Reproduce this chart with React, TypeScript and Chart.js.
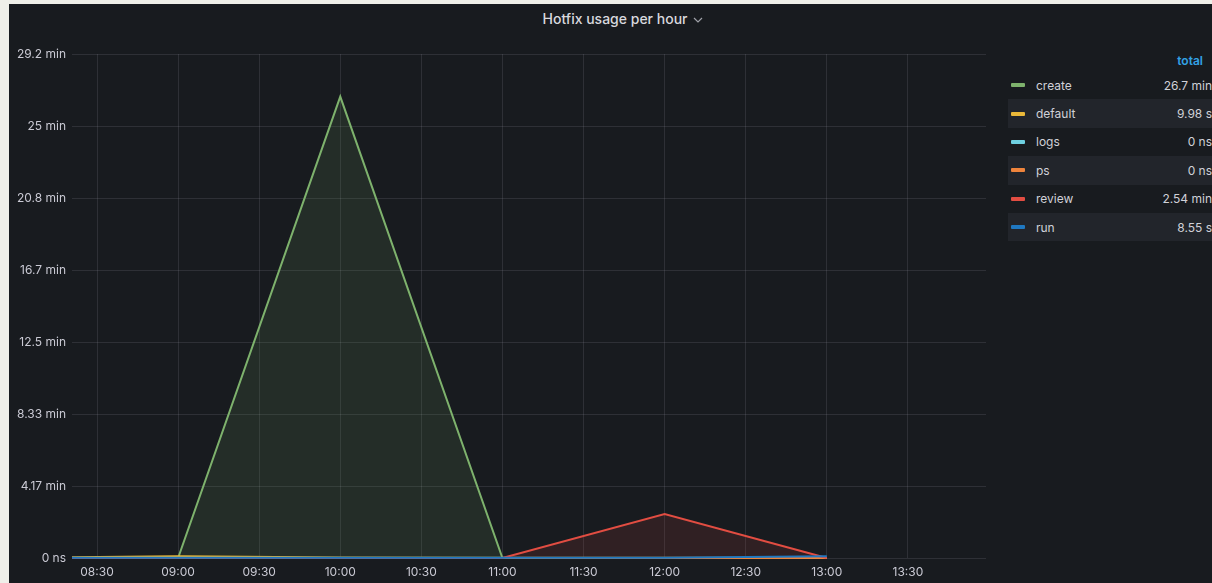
import React, { useEffect, useRef } from "react";
import { Chart, registerables } from "chart.js";
Chart.register(...registerables);

// ---- data ----
const times = ["08:00", "09:00", "10:00", "11:00", "12:00", "13:00"];
const createVals = [0, 0, 1602, 0, 0, 0]; // seconds
const defaultVals = [1, 6, 2, 1, 0.5, 0.48];
const logsVals = [0, 0, 0, 0, 0, 0];
const psVals = [0, 0, 0, 0, 0, 0];
const reviewVals = [0, 0, 0, 0, 152.4, 0];
const runVals = [0.5, 0.5, 0.5, 0.5, 1, 6.05];

const seriesNames = ["create", "default", "logs", "ps", "review", "run"];
const seriesColors = ["#7EB26D", "#EAB839", "#6ED0E0", "#EF843C", "#E24D42", "#1F78C1"];
const seriesTotals = ["26.7 min", "9.98 s", "0 ns", "0 ns", "2.54 min", "8.55 s"];

const xTickLabels = ["08:30", "09:00", "09:30", "10:00", "10:30", "11:00", "11:30", "12:00", "12:30", "13:00", "13:30"];
const xRange = ["08:20:45", "13:58:54"];
const yTickValues = [0, 250, 500, 750, 1000, 1250, 1500, 1750];
const yTickLabels = ["0 ns", "4.17 min", "8.33 min", "12.5 min", "16.7 min", "20.8 min", "25 min", "29.2 min"];

const toMin = (t: string) => {
  const p = t.split(":").map(Number);
  return p[0] * 60 + p[1] + (p[2] || 0) / 60;
};

const TEXT = "#cacad4";
const GRID = "rgba(204,204,220,0.12)";
const FONT = "Inter, 'Noto Sans', sans-serif";

export default function App() {
  const ref = useRef<HTMLCanvasElement | null>(null);
  useEffect(() => {
    if (!ref.current) return;
    const allVals = [createVals, defaultVals, logsVals, psVals, reviewVals, runVals];
    const xs = times.map(toMin);
    const fills: Record<string, string> = {
      create: "rgba(126,178,109,0.12)",
      review: "rgba(226,77,66,0.12)",
    };
    const datasets = seriesNames.map((name, i) => ({
      label: name,
      data: xs.map((x, j) => ({ x, y: allVals[i][j] })),
      borderColor: seriesColors[i],
      backgroundColor: fills[name] || "transparent",
      fill: fills[name] ? "origin" : false,
      borderWidth: 2,
      pointRadius: 0,
      tension: 0,
      clip: { left: 0, right: 0, top: 4, bottom: 4 },
      order: seriesNames.length - i,
    }));
    const xTickValues = xTickLabels.map(toMin);
    const chart = new Chart(ref.current, {
      type: "line",
      data: { datasets: datasets as any },
      options: {
        animation: false,
        responsive: false,
        maintainAspectRatio: false,
        layout: { padding: { top: 14, right: 0, bottom: 0, left: 0 } },
        plugins: { legend: { display: false }, tooltip: { enabled: false } },
        scales: {
          x: {
            type: "linear",
            min: toMin(xRange[0]),
            max: toMin(xRange[1]),
            afterBuildTicks: (s: any) => {
              s.ticks = xTickValues.map((v) => ({ value: v }));
            },
            afterFit: (s: any) => {
              s.height = 25;
            },
            ticks: {
              autoSkip: false,
              maxRotation: 0,
              padding: 7,
              color: TEXT,
              font: { family: FONT, size: 12 },
              callback: (v: any) => {
                const i = xTickValues.findIndex((t) => Math.abs(t - v) < 0.01);
                return i >= 0 ? xTickLabels[i] : "";
              },
            },
            grid: { color: GRID, drawTicks: false },
            border: { display: false },
          },
          y: {
            type: "linear",
            min: 0,
            max: 1750,
            afterBuildTicks: (s: any) => {
              s.ticks = yTickValues.map((v) => ({ value: v }));
            },
            afterFit: (s: any) => {
              s.width = 63;
            },
            ticks: {
              padding: 6,
              color: TEXT,
              font: { family: FONT, size: 12 },
              callback: (v: any) => {
                const i = yTickValues.indexOf(Number(v));
                return i >= 0 ? yTickLabels[i] : "";
              },
            },
            grid: { color: GRID, drawTicks: false },
            border: { display: false },
          },
        },
      },
    });
    return () => chart.destroy();
  }, []);

  return (
    <div
      style={{
        position: "fixed",
        left: 0,
        top: 0,
        width: 1212,
        height: 583,
        background: "#efefe9",
        overflow: "hidden",
        fontFamily: FONT,
      }}
    >
      <div
        style={{
          position: "absolute",
          left: 9,
          top: 4,
          width: 1203,
          height: 579,
          background: "#181b1f",
          overflow: "hidden",
        }}
      >
        <div
          style={{
            position: "absolute",
            left: 0,
            top: 5,
            width: 1228,
            textAlign: "center",
            color: "#d8d9de",
            fontSize: 14,
            fontWeight: 500,
            lineHeight: "20px",
          }}
        >
          Hotfix usage per hour
          <svg width="10" height="8" style={{ marginLeft: 6, verticalAlign: "middle" }}>
            <polyline points="1,2 5,6 9,2" fill="none" stroke="#9fa1a8" strokeWidth="1.2" />
          </svg>
        </div>
        <canvas
          ref={ref}
          width={977}
          height={543}
          style={{ position: "absolute", left: 0, top: 36, width: 977, height: 543 }}
        />
        <div style={{ position: "absolute", left: 999, top: 47, width: 204 }}>
          <div
            style={{
              height: 20,
              lineHeight: "20px",
              textAlign: "right",
              color: "#33a2e5",
              fontSize: 12,
              fontWeight: 600,
              paddingRight: 9,
            }}
          >
            total
          </div>
          {seriesNames.map((n, i) => (
            <div
              key={n}
              style={{
                height: 28.4,
                display: "flex",
                alignItems: "center",
                background: i % 2 === 1 ? "#22252b" : "transparent",
                fontSize: 12,
                color: "#d0d1d8",
              }}
            >
              <div style={{ width: 14, height: 4, borderRadius: 1, background: seriesColors[i], marginLeft: 3, marginRight: 11 }} />
              <div style={{ flex: 1 }}>{n}</div>
              <div style={{ textAlign: "right", paddingRight: 0 }}>{seriesTotals[i]}</div>
            </div>
          ))}
        </div>
      </div>
    </div>
  );
}
